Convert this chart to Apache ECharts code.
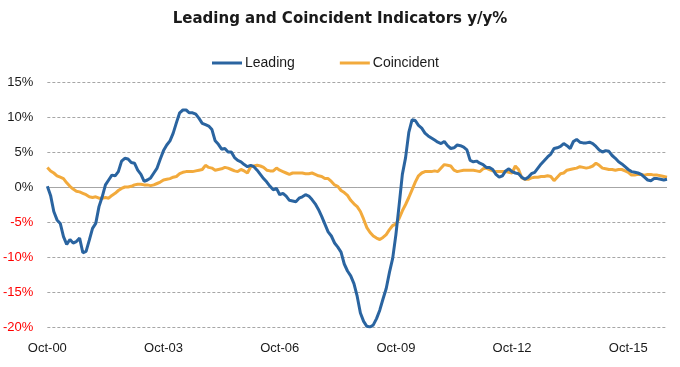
<!DOCTYPE html>
<html>
<head>
<meta charset="utf-8">
<script src="https://cdn.jsdelivr.net/npm/echarts@6/dist/echarts.min.js"></script>
<style>html,body{margin:0;padding:0;background:#fff;}#c{width:680px;height:367px;}</style>
</head>
<body>
<div id="c"></div>
<script>
// Monthly observations, Oct 2000 onward
var startYear = 2000, startMonth = 9; // October (0-based)
var monthNames = ['Jan','Feb','Mar','Apr','May','Jun','Jul','Aug','Sep','Oct','Nov','Dec'];

var leading = [
  0.1,-1.2,-3.5,-4.7,-5.2,-7.1,-8.2,-7.5,-8.0,-7.8,-7.3,-9.4,-9.2,-7.6,-5.9,-5.2,-2.8,-1.4,0.3,1.0,
  1.7,1.6,2.2,3.7,4.1,4.0,3.5,3.4,2.4,1.8,0.8,1.0,1.3,2.0,2.7,4.0,5.2,6.0,6.6,7.7,
  9.2,10.6,11.0,11.0,10.6,10.6,10.4,9.8,9.1,8.9,8.7,8.2,6.6,6.1,5.4,5.5,5.0,5.0,4.2,3.8,
  3.6,3.2,2.9,3.1,2.9,2.4,1.8,1.2,0.7,0.1,-0.4,-0.2,-1.1,-0.9,-1.3,-1.9,-2.0,-2.1,-1.6,-1.4,
  -1.1,-1.3,-1.8,-2.4,-3.2,-4.2,-5.3,-6.4,-7.0,-8.0,-8.6,-9.3,-11.0,-12.0,-12.7,-13.8,-15.6,-18.0,-19.2,-19.9,
  -20.0,-19.7,-18.8,-17.6,-16.0,-14.5,-12.2,-10.2,-6.8,-2.6,1.8,4.2,7.8,9.6,9.5,8.8,8.4,7.7,7.3,7.0,
  6.7,6.4,6.2,6.5,5.9,5.5,5.6,6.0,5.9,5.7,5.3,3.8,3.6,3.7,3.4,3.2,2.8,2.8,2.5,1.8,
  1.4,1.6,2.3,2.6,2.2,2.0,1.9,1.4,1.1,1.4,1.9,2.1,2.7,3.3,3.8,4.3,4.7,5.5,5.6,5.8,
  6.2,5.9,5.5,6.5,6.8,6.4,6.3,6.3,6.4,6.2,5.8,5.3,5.0,5.2,5.1,4.5,4.1,3.6,3.3,2.9,
  2.5,2.2,2.1,2.0,1.8,1.4,1.0,0.9,1.2,1.2,1.1,1.0,1.1
];

var coincident = [
  2.8,2.3,2.0,1.6,1.4,1.2,0.6,0.1,-0.3,-0.6,-0.7,-0.9,-1.1,-1.4,-1.5,-1.4,-1.6,-1.6,-1.5,-1.6,
  -1.2,-0.9,-0.5,-0.2,0.0,0.0,0.1,0.3,0.4,0.4,0.3,0.3,0.2,0.3,0.5,0.7,1.0,1.1,1.2,1.4,
  1.5,1.9,2.1,2.2,2.2,2.2,2.3,2.4,2.5,3.1,2.8,2.7,2.4,2.5,2.6,2.8,2.7,2.5,2.3,2.2,
  2.5,2.3,2.0,2.9,3.0,3.1,3.0,2.8,2.4,2.3,2.3,2.7,2.4,2.2,2.0,1.8,2.0,2.0,2.0,2.0,
  1.9,1.9,2.0,1.8,1.6,1.5,1.2,1.2,0.8,0.3,0.1,-0.5,-0.8,-1.2,-1.9,-2.4,-2.8,-3.5,-4.6,-5.8,
  -6.5,-7.0,-7.3,-7.5,-7.2,-6.8,-6.1,-5.5,-5.3,-4.5,-3.4,-2.5,-1.5,-0.4,0.7,1.6,2.0,2.2,2.2,2.2,
  2.3,2.2,2.7,3.2,3.1,3.0,2.4,2.2,2.3,2.4,2.4,2.4,2.4,2.3,2.2,2.6,2.7,2.5,2.3,2.2,
  2.2,2.2,2.2,2.1,2.0,3.0,2.5,1.3,1.1,1.1,1.3,1.4,1.4,1.5,1.5,1.6,1.5,0.9,1.4,1.9,
  2.0,2.4,2.5,2.6,2.7,2.9,2.8,2.7,2.8,3.0,3.4,3.1,2.7,2.6,2.5,2.5,2.4,2.5,2.5,2.3,
  2.1,1.7,1.7,1.8,1.8,1.7,1.8,1.8,1.7,1.7,1.6,1.5,1.4
];

var seriesNames = ['Leading', 'Coincident'];
var yTicks = { min: -20, max: 15, step: 5 };
var labelEvery = 36; // Oct-00, Oct-03, ...

var categories = [];
for (var i = 0; i < leading.length; i++) {
  var mm = startMonth + i;
  var y = startYear + Math.floor(mm / 12);
  var m = mm % 12;
  categories.push(monthNames[m] + '-' + String(y % 100).padStart(2, '0'));
}

var chart = echarts.init(document.getElementById('c'), null, {renderer: 'canvas'});
chart.setOption({
  animation: false,
  backgroundColor: '#ffffff',
  title: {
    text: 'Leading and Coincident Indicators y/y%',
    left: 'center',
    top: 7,
    textStyle: { fontFamily: 'DejaVu Sans', fontWeight: 'bold', fontSize: 15, color: '#1a1a1a' }
  },
  legend: {
    top: 51,
    left: 207,
    icon: 'rect',
    itemWidth: 30,
    itemHeight: 3,
    itemGap: 45,
    textStyle: { fontFamily: 'Liberation Sans', fontSize: 14, color: '#1a1a1a', padding: [0,0,0,-2] },
    data: seriesNames
  },
  grid: { left: 45, right: 13, top: 82, bottom: 40, containLabel: false },
  xAxis: {
    type: 'category',
    boundaryGap: false,
    data: categories,
    axisLine: { show: false, onZero: false },
    axisTick: { show: false },
    axisLabel: {
      interval: labelEvery - 1,
      margin: 15,
      fontFamily: 'Liberation Sans',
      fontSize: 13,
      color: '#1a1a1a'
    },
    splitLine: { show: false }
  },
  yAxis: {
    type: 'value',
    min: yTicks.min,
    max: yTicks.max,
    interval: yTicks.step,
    axisLine: { show: false },
    axisTick: { show: false },
    axisLabel: {
      margin: 14,
      fontFamily: 'Liberation Sans',
      fontSize: 13,
      formatter: function (v) { return v < 0 ? '{neg|' + v + '%}' : '{pos|' + v + '%}'; },
      rich: {
        neg: { color: '#ff0000', fontFamily: 'Liberation Sans', fontSize: 13 },
        pos: { color: '#1a1a1a', fontFamily: 'Liberation Sans', fontSize: 13 }
      }
    },
    splitLine: { show: true, lineStyle: { color: '#a6a6a6', type: [3, 2], width: 1 } }
  },
  series: [
    {
      name: seriesNames[0],
      type: 'line',
      data: leading,
      symbol: 'none',
      z: 3,
      lineStyle: { width: 3, color: '#2a64a0' },
      itemStyle: { color: '#2a64a0' },
      markLine: {
        silent: true,
        symbol: 'none',
        label: { show: false },
        lineStyle: { color: '#a6a6a6', type: 'solid', width: 1 },
        data: [{ yAxis: 0 }],
        z: 1
      }
    },
    {
      name: seriesNames[1],
      type: 'line',
      data: coincident,
      symbol: 'none',
      z: 2,
      lineStyle: { width: 3, color: '#f2aa3c' },
      itemStyle: { color: '#f2aa3c' }
    }
  ]
});
</script>
</body>
</html>
